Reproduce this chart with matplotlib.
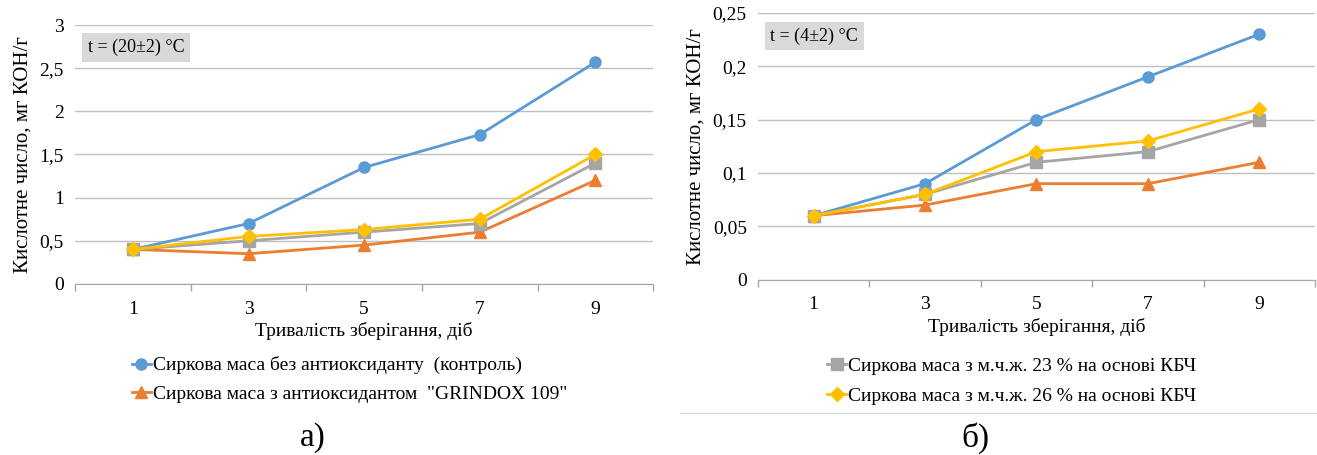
import matplotlib
matplotlib.use("Agg")
import matplotlib.pyplot as plt
from matplotlib.ticker import FuncFormatter, FixedLocator

plt.rcParams['font.family'] = ['Liberation Serif', 'DejaVu Serif']

# data
days = ["1", "3", "5", "7", "9"]

# a) t = (20±2) °C
a_control = [0.40, 0.70, 1.35, 1.73, 2.57]
a_grindox = [0.40, 0.35, 0.45, 0.60, 1.20]
a_kbch23 = [0.40, 0.50, 0.60, 0.70, 1.40]
a_kbch26 = [0.40, 0.55, 0.63, 0.75, 1.50]

# b) t = (4±2) °C
b_control = [0.06, 0.09, 0.15, 0.19, 0.23]
b_grindox = [0.06, 0.07, 0.09, 0.09, 0.11]
b_kbch23 = [0.06, 0.08, 0.11, 0.12, 0.15]
b_kbch26 = [0.06, 0.08, 0.12, 0.13, 0.16]

names = ["Сиркова маса без антиоксиданту  (контроль)",
         "Сиркова маса з антиоксидантом  \"GRINDOX 109\"",
         "Сиркова маса з м.ч.ж. 23 % на основі КБЧ",
         "Сиркова маса з м.ч.ж. 26 % на основі КБЧ"]

colors = ["#5B9BD5", "#ED7D31", "#A5A5A5", "#FFC000"]
markers = ["o", "^", "s", "D"]
msizes = [8, 8, 8, 7]

fig = plt.figure(figsize=(13.17, 4.55), dpi=100)

def comma(v, pos):
    s = ("%g" % v)
    return s.replace(".", ",")

def setup(ax, series, ymax, ystep, label):
    x = list(range(len(days)))
    lines = []
    for vals, c, m, ms, n in zip(series, colors, markers, msizes, names):
        ln, = ax.plot(x, vals, color=c, marker=m, markersize=ms, lw=2,
                      label=n, zorder=3)
        lines.append(ln)
    ax.set_xlim(-0.5, len(days) - 0.5)
    ax.set_ylim(0, ymax)
    ticks = [i * ystep for i in range(int(round(ymax / ystep)) + 1)]
    ax.yaxis.set_major_locator(FixedLocator(ticks))
    ax.yaxis.set_major_formatter(FuncFormatter(comma))
    ax.set_xticks(x)
    ax.set_xticklabels(days)
    ax.set_xticks([i - 0.5 for i in range(len(days) + 1)], minor=True)
    ax.tick_params(axis='x', which='major', length=0, pad=12, labelsize=14)
    ax.tick_params(axis='x', which='minor', length=5, color="#A6A6A6", width=1)
    ax.tick_params(axis='y', length=0, pad=8, labelsize=14)
    ax.grid(axis='y', color="#BFBFBF", lw=1)
    for s in ["top", "right", "left"]:
        ax.spines[s].set_visible(False)
    ax.spines["bottom"].set_color("#A6A6A6")
    ax.set_xlabel("Тривалість зберігання, діб", fontsize=14, labelpad=3)
    ax.set_ylabel("Кислотне число, мг КОН/г", fontsize=15, labelpad=5)
    ax.text(0.022, 0.895, label, transform=ax.transAxes, fontsize=13,
            bbox=dict(facecolor="#D9D9D9", edgecolor="none", pad=4))
    return lines

ax1 = fig.add_axes([0.057, 0.376, 0.439, 0.569])
l1 = setup(ax1, [a_control, a_grindox, a_kbch23, a_kbch26], 3, 0.5,
           "t = (20±2) °C")
ax1.legend(handles=l1[:2], loc='upper left', bbox_to_anchor=(0.094, 0.234),
           bbox_transform=fig.transFigure, frameon=False, fontsize=14,
           handlelength=1.0, handletextpad=0.1, labelspacing=0.55,
           borderaxespad=0)

ax2 = fig.add_axes([0.5755, 0.385, 0.423, 0.587])
l2 = setup(ax2, [b_control, b_grindox, b_kbch23, b_kbch26], 0.25, 0.05,
           "t = (4±2) °C")
ax2.legend(handles=l2[2:], loc='upper left', bbox_to_anchor=(0.622, 0.231),
           bbox_transform=fig.transFigure, frameon=False, fontsize=14,
           handlelength=1.0, handletextpad=0.1, labelspacing=0.6,
           borderaxespad=0)

# panel border line under right chart
fig.add_artist(plt.Line2D([0.516, 1.0], [1 - 413 / 455, 1 - 413 / 455],
                          color="#D9D9D9", lw=1))

fig.text(313 / 1317, 1 - 438 / 455, "а)", fontsize=24, ha='center', va='center')
fig.text(975 / 1317, 1 - 438 / 455, "б)", fontsize=24, ha='center', va='center')

fig.savefig("out.png", dpi=100)
